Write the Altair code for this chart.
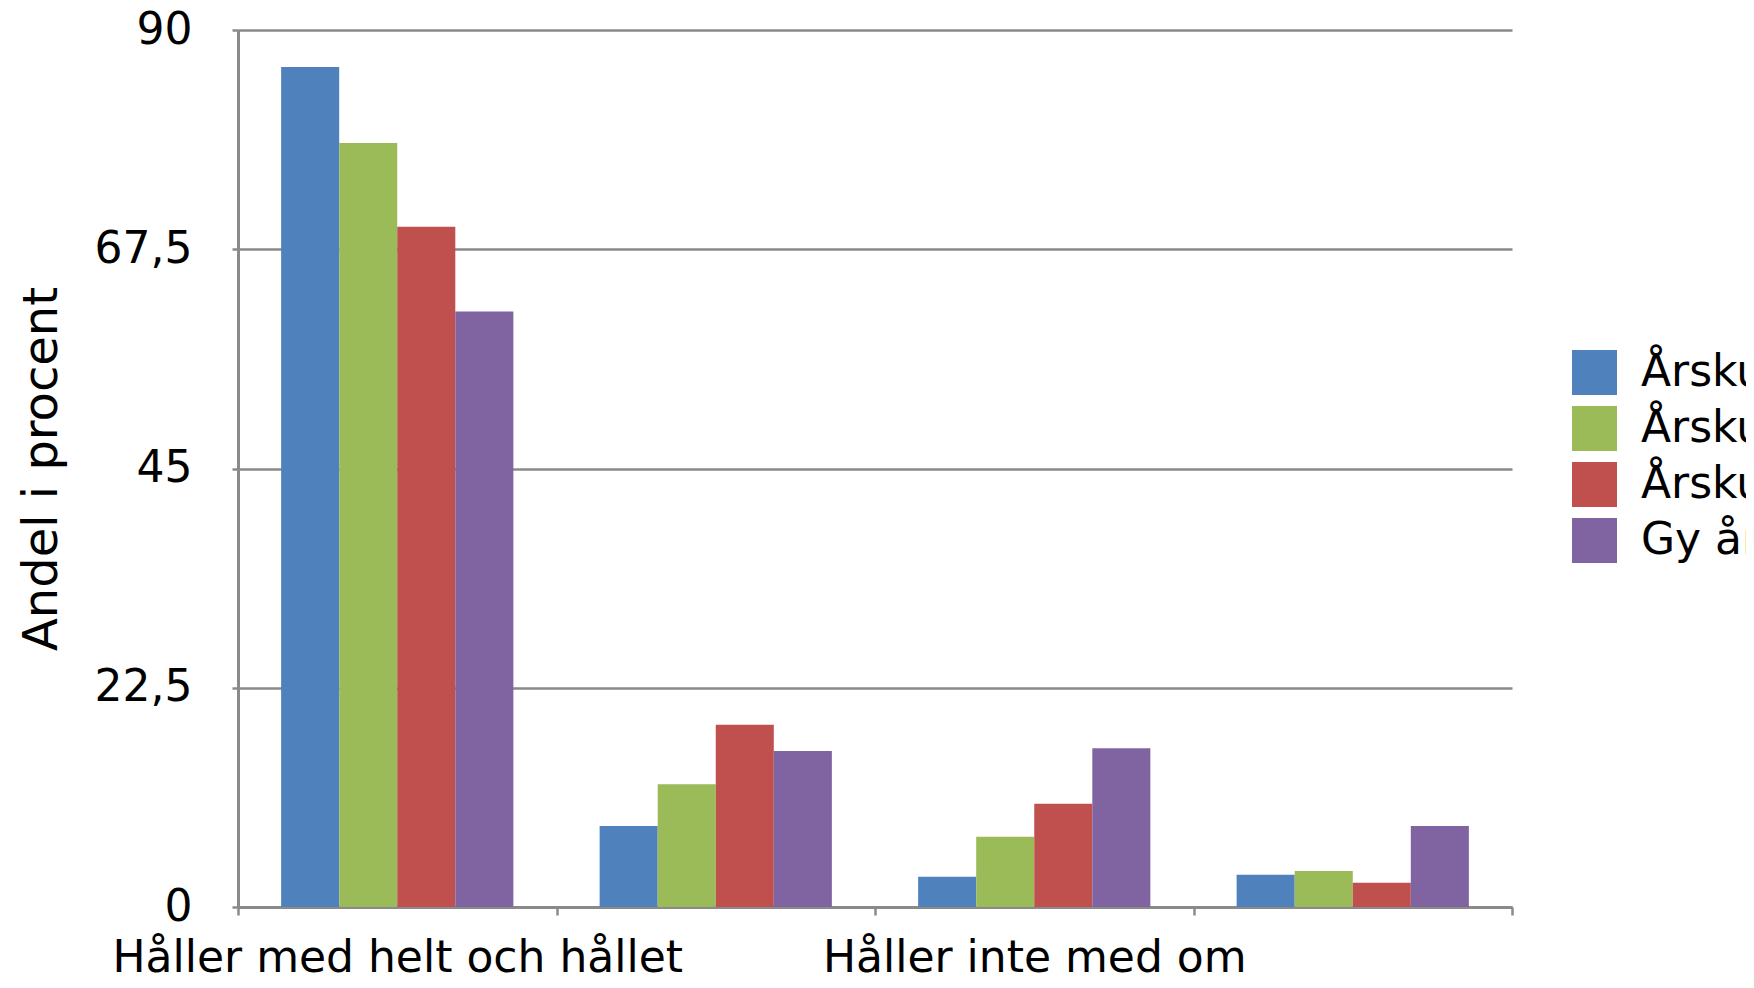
import altair as alt
import pandas as pd

categories = [
    "Håller med helt och hållet",
    "Håller delvis med",
    "Håller inte med om",
    "Håller inte alls med",
]
series = ["Årskurs 5", "Årskurs 7", "Årskurs 9", "Gy år 2"]
colors = ["#4F81BD", "#9BBB59", "#C0504D", "#8064A2"]

values_ak5 = [86.2, 8.3, 3.1, 3.3]
values_ak7 = [78.4, 12.6, 7.2, 3.7]
values_ak9 = [69.8, 18.7, 10.6, 2.5]
values_gy2 = [61.1, 16.0, 16.3, 8.3]

y_ticks = [0, 22.5, 45, 67.5, 90]
shown_labels = [categories[0], categories[2]]

rows = []
for s, vals in zip(series, [values_ak5, values_ak7, values_ak9, values_gy2]):
    for c, v in zip(categories, vals):
        rows.append({"kategori": c, "grupp": s, "andel": v})
df = pd.DataFrame(rows)

FONT = "DejaVu Sans"
GRID = "#8a8a8a"

label_expr = "indexof(" + str(shown_labels).replace('"', "'") + ", datum.value) >= 0 ? datum.label : ''"

chart = (
    alt.Chart(df)
    .mark_bar()
    .encode(
        x=alt.X(
            "kategori:N",
            sort=categories,
            scale=alt.Scale(paddingInner=0, paddingOuter=0),
            axis=alt.Axis(
                title=None,
                labelAngle=0,
                labelFont=FONT,
                labelFontSize=44,
                labelColor="#000000",
                labelPadding=21,
                labelExpr=label_expr,
                labelLimit=0,
                tickBand="extent",
                tickSize=8,
                tickColor=GRID,
                tickWidth=2.5,
                domainColor=GRID,
                domainWidth=3,
                grid=False,
                labelOverlap=False,
            ),
        ),
        xOffset=alt.XOffset(
            "grupp:N",
            sort=series,
            scale=alt.Scale(paddingInner=0, paddingOuter=0.743),
        ),
        y=alt.Y(
            "andel:Q",
            scale=alt.Scale(domain=[0, 90], nice=False),
            axis=alt.Axis(
                title="Andel i procent",
                titleFont=FONT,
                titleFontSize=48,
                titleFontWeight="normal",
                titleColor="#000000",
                titlePadding=28,
                values=y_ticks,
                format=".1~f",
                labelExpr="replace(datum.label, '.', ',')",
                labelFont=FONT,
                labelFontSize=44,
                labelColor="#000000",
                labelPadding=40,
                tickSize=6,
                tickColor=GRID,
                tickWidth=2.5,
                domainColor=GRID,
                domainWidth=3,
                grid=True,
                gridColor=GRID,
                gridWidth=2.5,
                gridOpacity=1,
            ),
        ),
        color=alt.Color(
            "grupp:N",
            sort=series,
            scale=alt.Scale(domain=series, range=colors),
            legend=alt.Legend(
                title=None,
                orient="none",
                legendX=1334,
                legendY=320,
                symbolType="square",
                symbolSize=2025,
                symbolStrokeWidth=0,
                symbolOpacity=1,
                labelFont=FONT,
                labelFontSize=44,
                labelColor="#000000",
                labelOffset=24,
                labelLimit=0,
                rowPadding=11,
            ),
        ),
    )
    .properties(
        width=1274,
        height=877,
        background="#ffffff",
        autosize=alt.AutoSizeParams(type="none"),
        padding={"left": 230, "top": 22, "right": 234, "bottom": 70},
    )
    .configure_view(stroke="transparent", strokeWidth=0)
)

chart.save("out.html", embed_options={"renderer": "svg", "actions": False})
